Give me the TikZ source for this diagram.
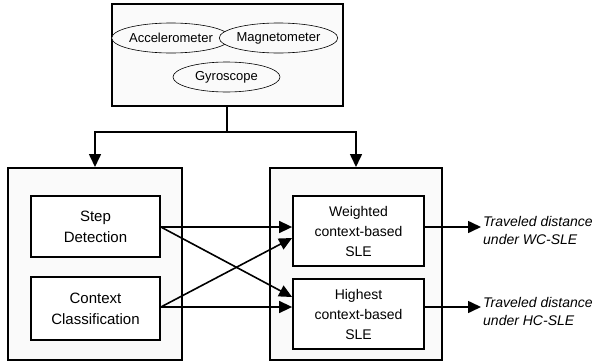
\documentclass[tikz,border=0pt]{standalone}
\usepackage{fontspec}
\setmainfont{Liberation Sans}
\usetikzlibrary{shapes.geometric,arrows.meta}
\begin{document}
\begin{tikzpicture}[x=1pt,y=-1pt,
  outer/.style={draw, line width=2pt, fill=black!2, inner sep=0},
  inner/.style={draw, line width=1.8pt, fill=white, align=center, inner sep=0,
                font=\fontsize{14}{20}\selectfont},
  sensor/.style={ellipse, draw, line width=0.6pt, fill=black!2, inner sep=0,
                 minimum height=30pt, font=\fontsize{13}{15}\selectfont},
  arr/.style={-{Triangle[length=13pt,width=12pt]}, line width=1.6pt},
  outtxt/.style={anchor=west, align=left, inner sep=2pt,
                 font=\fontsize{14}{18}\selectfont\itshape}]
\useasboundingbox (0,0) rectangle (595,362);

% top sensor box
\node[outer, minimum width=231pt, minimum height=102pt] (top) at (227,55) {};
\node[sensor, minimum width=104pt] (acc) at (171,38) {Accelerometer};
\node[sensor, minimum width=108pt] (mag) at (278.5,38) {Magnetometer};
\node[sensor, minimum width=107pt] (gyr) at (226.5,77) {Gyroscope};

% lower outer boxes
\node[outer, minimum width=174pt, minimum height=192pt] (left) at (95,264) {};
\node[outer, minimum width=172pt, minimum height=192pt] (right) at (356,264) {};

% inner boxes
\node[inner, minimum width=129pt, minimum height=61pt, font=\fontsize{15}{21}\selectfont] (step) at (95.5,226.5) {Step\\Detection};
\node[inner, minimum width=129pt, minimum height=63pt, font=\fontsize{15}{21}\selectfont] (ctx) at (95.5,308.5) {Context\\Classification};
\node[inner, minimum width=131pt, minimum height=70pt] (wei) at (358.5,231) {Weighted\\context-based\\SLE};
\node[inner, minimum width=131pt, minimum height=70pt] (hig) at (358.5,314) {Highest\\context-based\\SLE};

% outputs
\node[outtxt] (o1) at (481,230) {Traveled distance\\under WC-SLE};
\node[outtxt] (o2) at (481,311) {Traveled distance\\under HC-SLE};

% split from top box
\coordinate (split) at (227,132);
\draw[line width=1.6pt] (top.south) -- (split);
\draw[arr] (split) -| (left.north);
\draw[arr] (split) -| (right.north);

% cross connections
\draw[arr] (step.east |- 0,227) -- (wei.west |- 0,227);
\draw[arr] (step.east |- 0,227) -- (hig.west |- 0,297);
\draw[arr] (ctx.east |- 0,307) -- (hig.west |- 0,307);
\draw[arr] (ctx.east |- 0,307) -- (wei.west |- 0,238);

% output arrows
\draw[arr] (wei.east |- 0,227) -- (o1.west |- 0,227);
\draw[arr] (hig.east |- 0,307) -- (o2.west |- 0,307);
\end{tikzpicture}
\end{document}
